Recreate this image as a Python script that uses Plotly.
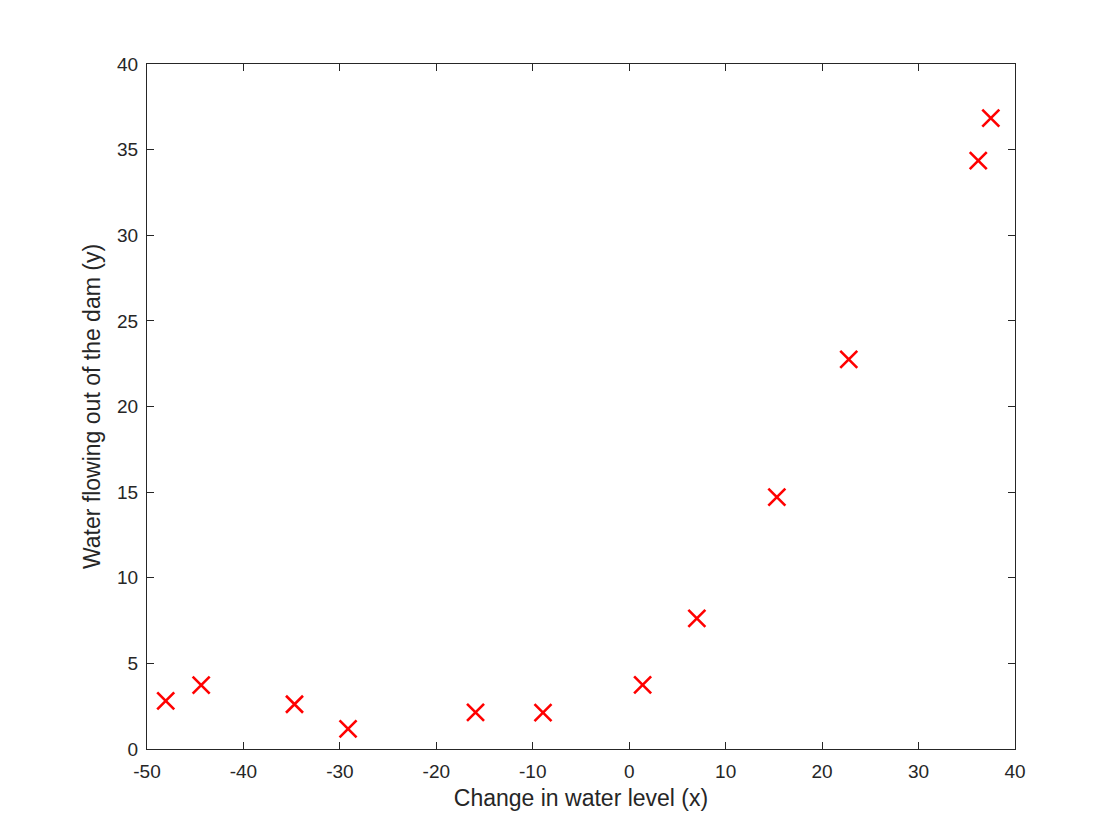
import plotly.graph_objects as go

water_level_change = [-15.9368, -29.1530, 36.1895, 37.4922, -48.0588, -8.9415,
                      15.3078, -34.7063, 1.3892, -44.3838, 7.0135, 22.7627]
water_flow = [2.1343, 1.1733, 34.3591, 36.8380, 2.8090, 2.1211,
              14.7103, 2.6142, 3.7402, 3.7317, 7.6277, 22.7524]
x_ticks = [-50, -40, -30, -20, -10, 0, 10, 20, 30, 40]
y_ticks = [0, 5, 10, 15, 20, 25, 30, 35, 40]
x_tick_text = ["-50", "-40", "-30", "-20", "-10", "0", "10", "20", "30", "40"]
y_tick_text = ["0", "5", "10", "15", "20", "25", "30", "35", "40"]

FONT = "Liberation Sans, Arial, Helvetica, sans-serif"
INK = "#262626"

fig = go.Figure(go.Scatter(
    x=water_level_change, y=water_flow, mode="markers",
    marker=dict(symbol="x-thin", size=17, color="rgba(0,0,0,0)",
                line=dict(color="#ff0000", width=2.6)),
    showlegend=False,
))

axis_common = dict(
    showline=True, linecolor=INK, linewidth=1, mirror="ticks",
    ticks="inside", ticklen=7, tickcolor=INK, tickwidth=1,
    showgrid=False, zeroline=False,
    tickfont=dict(family=FONT, size=19, color=INK),
)

fig.update_layout(
    width=1120, height=840,
    paper_bgcolor="white", plot_bgcolor="white",
    margin=dict(l=139, r=113, t=56, b=99),
    xaxis=dict(range=[-50, 40], tickvals=x_ticks, ticktext=x_tick_text,
               ticklabelstandoff=5, **axis_common,
               title=dict(text="Change in water level (x)", standoff=9,
                          font=dict(family=FONT, size=23, color=INK))),
    yaxis=dict(range=[0, 40], tickvals=y_ticks, ticktext=y_tick_text,
               ticklabelstandoff=4, **axis_common,
               title=dict(text="Water flowing out of the dam (y)", standoff=10,
                          font=dict(family=FONT, size=23, color=INK))),
)

fig.write_html("out.html")
